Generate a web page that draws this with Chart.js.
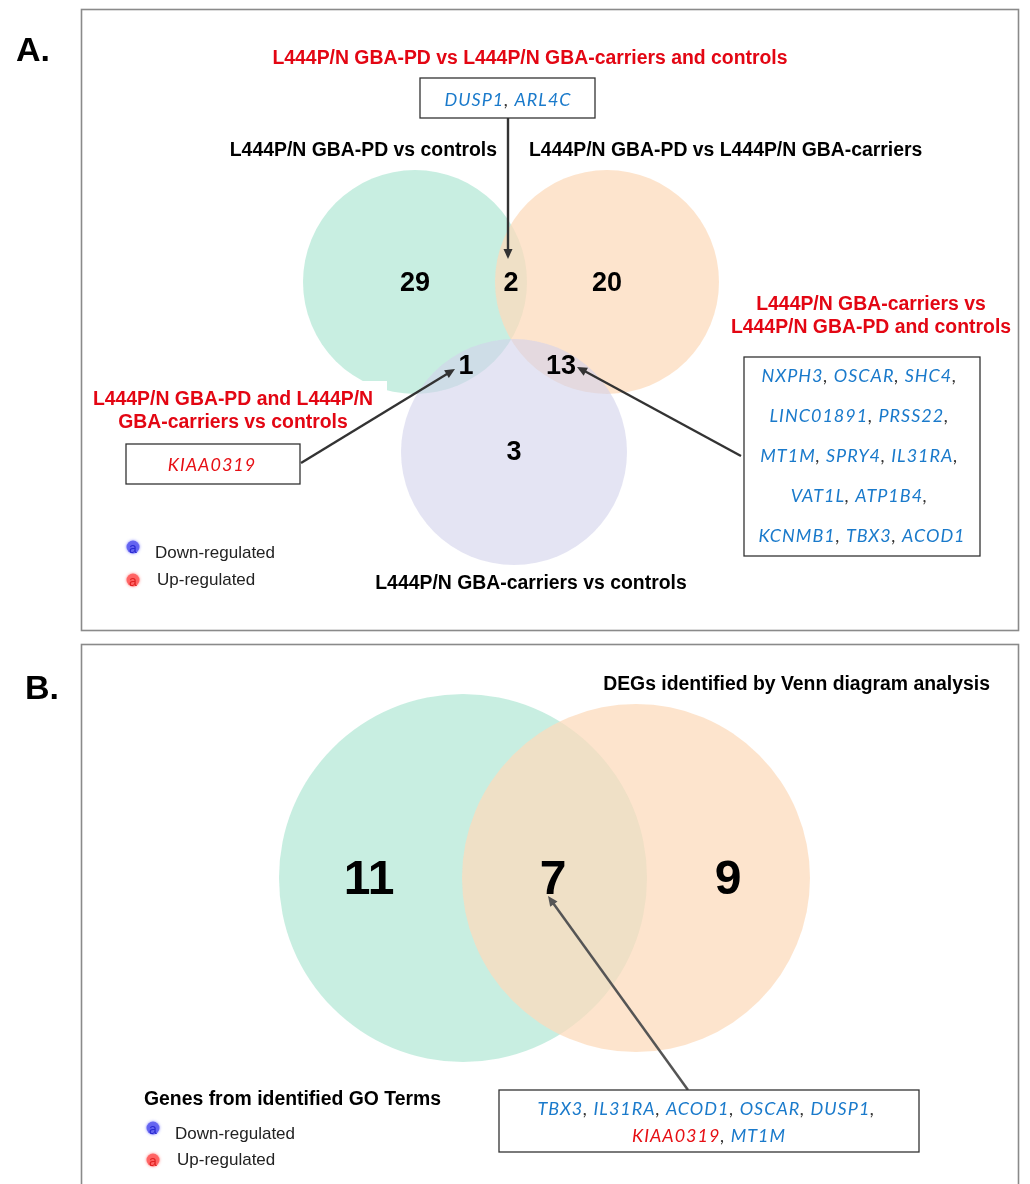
<!DOCTYPE html>
<html>
<head>
<meta charset="utf-8">
<script src="https://cdn.jsdelivr.net/npm/chart.js@4.4.1/dist/chart.umd.min.js"></script>
<style>
  html, body { margin: 0; padding: 0; background: #ffffff; }
  canvas { display: block; }
</style>
</head>
<body>
<canvas id="venn" width="1030" height="1184"></canvas>
<script>
// ---- Panel A: three comparisons ----
const setNamesA = [
  'L444P/N GBA-PD vs controls',
  'L444P/N GBA-PD vs L444P/N GBA-carriers',
  'L444P/N GBA-carriers vs controls'
];
// regions: PD only, PD∩PD-vs-carriers, PD-vs-carriers only, PD∩carriers, PD-vs-carriers∩carriers, carriers only
const regionCountsA = [29, 2, 20, 1, 13, 3];

const groupTitleTop = 'L444P/N GBA-PD vs L444P/N GBA-carriers and controls';
const groupTitleRight = ['L444P/N GBA-carriers vs', 'L444P/N GBA-PD and controls'];
const groupTitleLeft = ['L444P/N GBA-PD and L444P/N', 'GBA-carriers vs controls'];

const genesTop = ['DUSP1', 'ARL4C'];
const genesRight = ['NXPH3', 'OSCAR', 'SHC4', 'LINC01891', 'PRSS22', 'MT1M', 'SPRY4',
                    'IL31RA', 'VAT1L', 'ATP1B4', 'KCNMB1', 'TBX3', 'ACOD1'];
const genesLeft = ['KIAA0319'];

// ---- Panel B: two sets ----
const setTitleB = 'DEGs identified by Venn diagram analysis';
const legendTitleB = 'Genes from identified GO Terms';
const regionCountsB = [11, 7, 9];
const genesShared = ['TBX3', 'IL31RA', 'ACOD1', 'OSCAR', 'DUSP1', 'KIAA0319', 'MT1M'];

// regulation direction
const upRegulated = ['KIAA0319'];
const legendLabels = ['Down-regulated', 'Up-regulated'];

// ---- layout (chart units = canvas pixels) ----
const circlesA = [
  { x: 415, y: 282, r: 112, fill: 'rgba(163,227,205,0.6)' },
  { x: 607, y: 282, r: 112, fill: 'rgba(252,219,188,0.75)' },
  { x: 514, y: 452, r: 113, fill: 'rgba(210,210,235,0.6)' }
];
const circlesB = [
  { x: 463, y: 878, r: 184, fill: 'rgba(163,227,205,0.6)' },
  { x: 636, y: 878, r: 174, fill: 'rgba(252,219,188,0.75)' }
];
const countPosA = [[415, 284], [511, 284], [607, 284], [466, 367], [561, 367], [514, 453]];
const countPosB = [[369, 881], [553, 881], [728, 881]];

const BLUE = '#1a7acb';
const RED = '#e60f14';
const TITLE_RED = '#e30613';
const SANS = '"Liberation Sans", Arial, Helvetica, sans-serif';
const GENE_FONT = 'italic 18px Lato, "Open Sans", sans-serif';
const GENE_SPACING = '1.0px';

function geneColor(g) { return upRegulated.includes(g) ? RED : BLUE; }

function text(ctx, str, x, y, font, color, align) {
  ctx.font = font;
  ctx.fillStyle = color;
  ctx.textAlign = align || 'center';
  ctx.textBaseline = 'middle';
  ctx.fillText(str, x, y);
}

// genes separated by commas; every gene but the last one in a list gets a comma
function geneLines(list, breaks) {
  const lines = [];
  let k = 0;
  breaks.forEach(n => {
    const line = [];
    for (let i = 0; i < n; i++, k++) {
      line.push([list[k], geneColor(list[k])]);
      if (k < list.length - 1) line.push([', ', '#333']);
    }
    lines.push(line);
  });
  return lines;
}

function drawGeneLine(ctx, pieces, cx, y) {
  ctx.font = GENE_FONT;
  ctx.letterSpacing = GENE_SPACING;
  ctx.textBaseline = 'middle';
  ctx.textAlign = 'left';
  const widths = pieces.map(p => ctx.measureText(p[0]).width);
  let x = cx - widths.reduce((a, b) => a + b, 0) / 2;
  pieces.forEach((p, i) => {
    ctx.fillStyle = p[1];
    ctx.fillText(p[0], x, y);
    x += widths[i];
  });
  ctx.letterSpacing = '0px';
}

function box(ctx, x0, y0, x1, y1) {
  ctx.save();
  ctx.fillStyle = '#ffffff';
  ctx.fillRect(x0, y0, x1 - x0, y1 - y0);
  ctx.strokeStyle = '#333333';
  ctx.lineWidth = 1.3;
  ctx.strokeRect(x0, y0, x1 - x0, y1 - y0);
  ctx.restore();
}

function arrow(ctx, x0, y0, x1, y1, color, width) {
  const ang = Math.atan2(y1 - y0, x1 - x0);
  const len = 10, half = 4.5;
  ctx.save();
  ctx.strokeStyle = color;
  ctx.fillStyle = color;
  ctx.lineWidth = width;
  ctx.beginPath();
  ctx.moveTo(x0, y0);
  ctx.lineTo(x1 - Math.cos(ang) * len * 0.8, y1 - Math.sin(ang) * len * 0.8);
  ctx.stroke();
  ctx.beginPath();
  ctx.moveTo(x1, y1);
  ctx.lineTo(x1 - Math.cos(ang) * len - Math.sin(ang) * half, y1 - Math.sin(ang) * len + Math.cos(ang) * half);
  ctx.lineTo(x1 - Math.cos(ang) * len + Math.sin(ang) * half, y1 - Math.sin(ang) * len - Math.cos(ang) * half);
  ctx.closePath();
  ctx.fill();
  ctx.restore();
}

function legendKey(ctx, x, y, up) {
  ctx.save();
  ctx.shadowColor = up ? 'rgba(255,60,60,0.7)' : 'rgba(60,60,255,0.7)';
  ctx.shadowBlur = 3;
  ctx.fillStyle = up ? 'rgba(255,95,95,0.9)' : 'rgba(95,95,240,0.9)';
  ctx.beginPath();
  ctx.arc(x, y, 6.5, 0, Math.PI * 2);
  ctx.fill();
  ctx.restore();
  text(ctx, 'a', x, y + 2, '14px ' + SANS, up ? '#e02020' : '#2a2ad0');
}

function legend(ctx, x, y0, y1) {
  legendKey(ctx, x, y0 - 6, false);
  legendKey(ctx, x, y1, true);
  text(ctx, legendLabels[0], x + 22, y0, '17px ' + SANS, '#222', 'left');
  text(ctx, legendLabels[1], x + 24, y1, '17px ' + SANS, '#222', 'left');
}

const vennDecor = {
  id: 'vennDecor',
  beforeDatasetsDraw(chart) {
    const ctx = chart.ctx;
    ctx.save();
    ctx.strokeStyle = '#8a8a8a';
    ctx.lineWidth = 1.6;
    ctx.strokeRect(81.5, 9.5, 937, 621);
    ctx.strokeRect(81.5, 644.5, 937, 600);
    ctx.restore();
  },
  afterDatasetsDraw(chart) {
    const ctx = chart.ctx;
    const sx = v => chart.scales.x.getPixelForValue(v);
    const sy = v => chart.scales.y.getPixelForValue(v);
    const bold = px => 'bold ' + px + 'px ' + SANS;

    // panel letters
    text(ctx, 'A.', 16, 52, bold(34), '#000', 'left');
    text(ctx, 'B.', 25, 690, bold(34), '#000', 'left');

    // ---- panel A ----
    // white label backing (covers a sliver of the left circle)
    ctx.fillStyle = '#ffffff';
    ctx.fillRect(92, 381, 295, 52);

    text(ctx, groupTitleTop, 530, 59, bold(19.4), TITLE_RED);
    text(ctx, setNamesA[0], 497, 151, bold(19.4), '#000', 'right');
    text(ctx, setNamesA[1], 529, 151, bold(19.4), '#000', 'left');
    text(ctx, setNamesA[2], 531, 584, bold(19.4), '#000');
    groupTitleRight.forEach((s, i) => text(ctx, s, 871, 305 + i * 23, bold(19.4), TITLE_RED));
    groupTitleLeft.forEach((s, i) => text(ctx, s, 233, 400 + i * 23, bold(19.4), TITLE_RED));

    regionCountsA.forEach((n, i) => {
      text(ctx, String(n), sx(countPosA[i][0]), sy(countPosA[i][1]), bold(27), '#000');
    });

    // gene boxes and arrows
    box(ctx, 420, 78, 595, 118);
    geneLines(genesTop, [2]).forEach(l => drawGeneLine(ctx, l, 508, 100));
    arrow(ctx, 508, 118, 508, 259, '#333', 2.4);

    box(ctx, 126, 444, 300, 484);
    geneLines(genesLeft, [1]).forEach(l => drawGeneLine(ctx, l, 212, 465));
    arrow(ctx, 301, 463, 455, 369, '#333', 2.4);

    box(ctx, 744, 357, 980, 556);
    geneLines(genesRight, [3, 2, 3, 2, 3]).forEach((l, i) => drawGeneLine(ctx, l, 862, 376 + i * 40));
    arrow(ctx, 741, 456, 577, 367, '#333', 2.4);

    legend(ctx, 133, 553, 580);

    // ---- panel B ----
    text(ctx, setTitleB, 990, 685, bold(19.4), '#000', 'right');
    regionCountsB.forEach((n, i) => {
      text(ctx, String(n), sx(countPosB[i][0]), sy(countPosB[i][1]), bold(48), '#000');
    });
    arrow(ctx, 688, 1090, 548, 896, '#555', 2.5);
    box(ctx, 499, 1090, 919, 1152);
    geneLines(genesShared, [5, 2]).forEach((l, i) => drawGeneLine(ctx, l, 709, 1109 + i * 27));

    text(ctx, legendTitleB, 144, 1100, bold(19.4), '#000', 'left');
    legend(ctx, 153, 1134, 1160);
  }
};

// Chart.js paints dataset 0 last (on top), so the circles are listed in reverse:
// each later circle is laid over the earlier ones.
const datasets = circlesA.concat(circlesB).reverse().map(c => ({
  data: [{ x: c.x, y: c.y, r: c.r }],
  backgroundColor: c.fill,
  borderWidth: 0,
  hoverRadius: 0,
  clip: false
}));

new Chart(document.getElementById('venn'), {
  type: 'bubble',
  data: { datasets },
  options: {
    responsive: false,
    animation: false,
    devicePixelRatio: 1,
    layout: { padding: 0, autoPadding: false },
    events: [],
    plugins: { legend: { display: false }, tooltip: { enabled: false } },
    scales: {
      x: { type: 'linear', min: 0, max: 1030, display: false },
      y: { type: 'linear', min: 0, max: 1184, reverse: true, display: false }
    }
  },
  plugins: [vennDecor]
});
</script>
</body>
</html>
